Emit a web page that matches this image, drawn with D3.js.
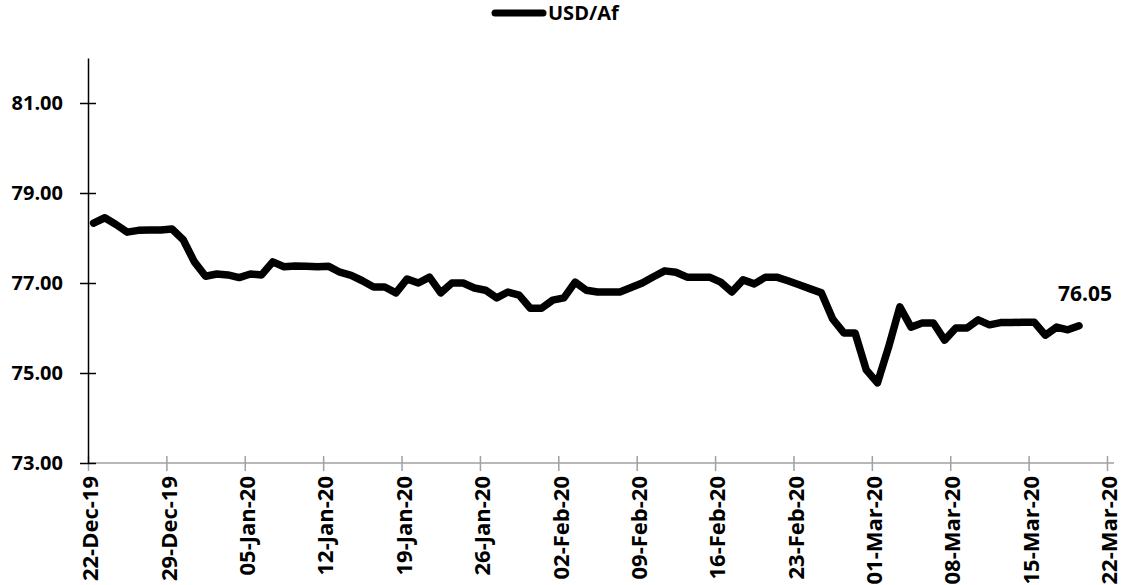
<!DOCTYPE html>
<html>
<head>
<meta charset="utf-8">
<script src="https://cdn.jsdelivr.net/npm/d3@7"></script>
<style>
  body { margin: 0; background: #fff; }
  text { font-family: "Open Sans", sans-serif; font-weight: bold; fill: #000; }
</style>
</head>
<body>
<script>
// daily USD/Af rate, 22-Dec-19 .. 19-Mar-20
var dates = [
  "22-Dec-19","23-Dec-19","24-Dec-19","25-Dec-19","26-Dec-19","27-Dec-19","28-Dec-19",
  "29-Dec-19","30-Dec-19","31-Dec-19","01-Jan-20","02-Jan-20","03-Jan-20","04-Jan-20",
  "05-Jan-20","06-Jan-20","07-Jan-20","08-Jan-20","09-Jan-20","10-Jan-20","11-Jan-20",
  "12-Jan-20","13-Jan-20","14-Jan-20","15-Jan-20","16-Jan-20","17-Jan-20","18-Jan-20",
  "19-Jan-20","20-Jan-20","21-Jan-20","22-Jan-20","23-Jan-20","24-Jan-20","25-Jan-20",
  "26-Jan-20","27-Jan-20","28-Jan-20","29-Jan-20","30-Jan-20","31-Jan-20","01-Feb-20",
  "02-Feb-20","03-Feb-20","04-Feb-20","05-Feb-20","06-Feb-20","07-Feb-20","08-Feb-20",
  "09-Feb-20","10-Feb-20","11-Feb-20","12-Feb-20","13-Feb-20","14-Feb-20","15-Feb-20",
  "16-Feb-20","17-Feb-20","18-Feb-20","19-Feb-20","20-Feb-20","21-Feb-20","22-Feb-20",
  "23-Feb-20","24-Feb-20","25-Feb-20","26-Feb-20","27-Feb-20","28-Feb-20","29-Feb-20",
  "01-Mar-20","02-Mar-20","03-Mar-20","04-Mar-20","05-Mar-20","06-Mar-20","07-Mar-20",
  "08-Mar-20","09-Mar-20","10-Mar-20","11-Mar-20","12-Mar-20","13-Mar-20","14-Mar-20",
  "15-Mar-20","16-Mar-20","17-Mar-20","18-Mar-20","19-Mar-20"
];
var rates = [
  78.33,78.45,78.30,78.13,78.17,78.18,78.18,
  78.20,77.96,77.47,77.15,77.20,77.18,77.12,
  77.20,77.18,77.47,77.36,77.38,77.37,77.36,
  77.37,77.24,77.17,77.05,76.91,76.91,76.78,
  77.09,77.00,77.13,76.78,77.00,77.00,76.89,
  76.84,76.67,76.80,76.73,76.44,76.44,76.62,
  76.67,77.02,76.84,76.80,76.80,76.80,76.90,
  77.00,77.14,77.27,77.24,77.13,77.13,77.13,
  77.02,76.80,77.07,76.98,77.13,77.13,77.05,
  76.96,76.87,76.78,76.20,75.89,75.89,75.07,
  74.78,75.58,76.47,76.02,76.11,76.11,75.73,
  76.00,76.00,76.18,76.07,76.12,76.12,76.13,
  76.13,75.84,76.02,75.96,76.05
];
var yTicks = [73, 75, 77, 79, 81];
var xTicks = ["22-Dec-19","29-Dec-19","05-Jan-20","12-Jan-20","19-Jan-20","26-Jan-20","02-Feb-20",
              "09-Feb-20","16-Feb-20","23-Feb-20","01-Mar-20","08-Mar-20","15-Mar-20","22-Mar-20"];
var seriesName = "USD/Af";

var W = 1126, H = 585;
var parse = d3.timeParse("%d-%b-%y");
var fmt = d3.timeFormat("%d-%b-%y");

var svg = d3.select("body").append("svg").attr("width", W).attr("height", H);

var x = d3.scaleTime()
    .domain([parse(xTicks[0]), parse(xTicks[xTicks.length - 1])])
    .range([88, 1107]);
var y = d3.scaleLinear().domain([73, 82]).range([463, 58]);

// x axis (grey)
var xAxis = svg.append("g")
    .attr("transform", "translate(0,463)")
    .call(d3.axisBottom(x).tickValues(xTicks.map(parse)).tickFormat(fmt).tickSizeInner(0).tickSizeOuter(0));
xAxis.select(".domain").attr("stroke", "#a0a0a0").attr("stroke-width", 1.5)
    .attr("d", "M88,0H1114");
xAxis.selectAll(".tick").append("line")
    .attr("y1", -7).attr("y2", 8).attr("stroke", "#a0a0a0").attr("stroke-width", 1.5);
xAxis.selectAll(".tick text")
    .attr("transform", "rotate(-90)")
    .attr("x", -13).attr("y", 2).attr("dy", "0.35em")
    .attr("text-anchor", "end")
    .style("font-size", "22px");

// y axis (black)
var yAxis = svg.append("g")
    .attr("transform", "translate(88,0)")
    .call(d3.axisLeft(y).tickValues(yTicks).tickFormat(d3.format(".2f")).tickSizeInner(0).tickSizeOuter(0));
yAxis.select(".domain").attr("stroke", "#000").attr("stroke-width", 1.5);
yAxis.selectAll(".tick").append("line")
    .attr("x1", -8).attr("x2", 8).attr("stroke", "#000").attr("stroke-width", 1.5);
yAxis.selectAll(".tick text").attr("x", -25).style("font-size", "20px");

// line
var pts = dates.map(function (d, i) {
    return { date: d3.timeHour.offset(parse(d), 12), v: rates[i] };
});
var line = d3.line()
    .x(function (d) { return x(d.date); })
    .y(function (d) { return y(d.v); });
svg.append("path")
    .attr("d", line(pts))
    .attr("fill", "none")
    .attr("stroke", "#000")
    .attr("stroke-width", 7.5)
    .attr("stroke-linejoin", "round")
    .attr("stroke-linecap", "round");

// last value label
var last = pts[pts.length - 1];
svg.append("text")
    .attr("x", x(last.date) + 6)
    .attr("y", y(last.v) - 25)
    .attr("text-anchor", "middle")
    .style("font-size", "21px")
    .text(d3.format(".2f")(last.v));

// legend
svg.append("line")
    .attr("x1", 495).attr("x2", 543).attr("y1", 13).attr("y2", 13)
    .attr("stroke", "#000").attr("stroke-width", 7).attr("stroke-linecap", "round");
svg.append("text")
    .attr("x", 548).attr("y", 20)
    .style("font-size", "20px")
    .text(seriesName);
</script>
</body>
</html>
